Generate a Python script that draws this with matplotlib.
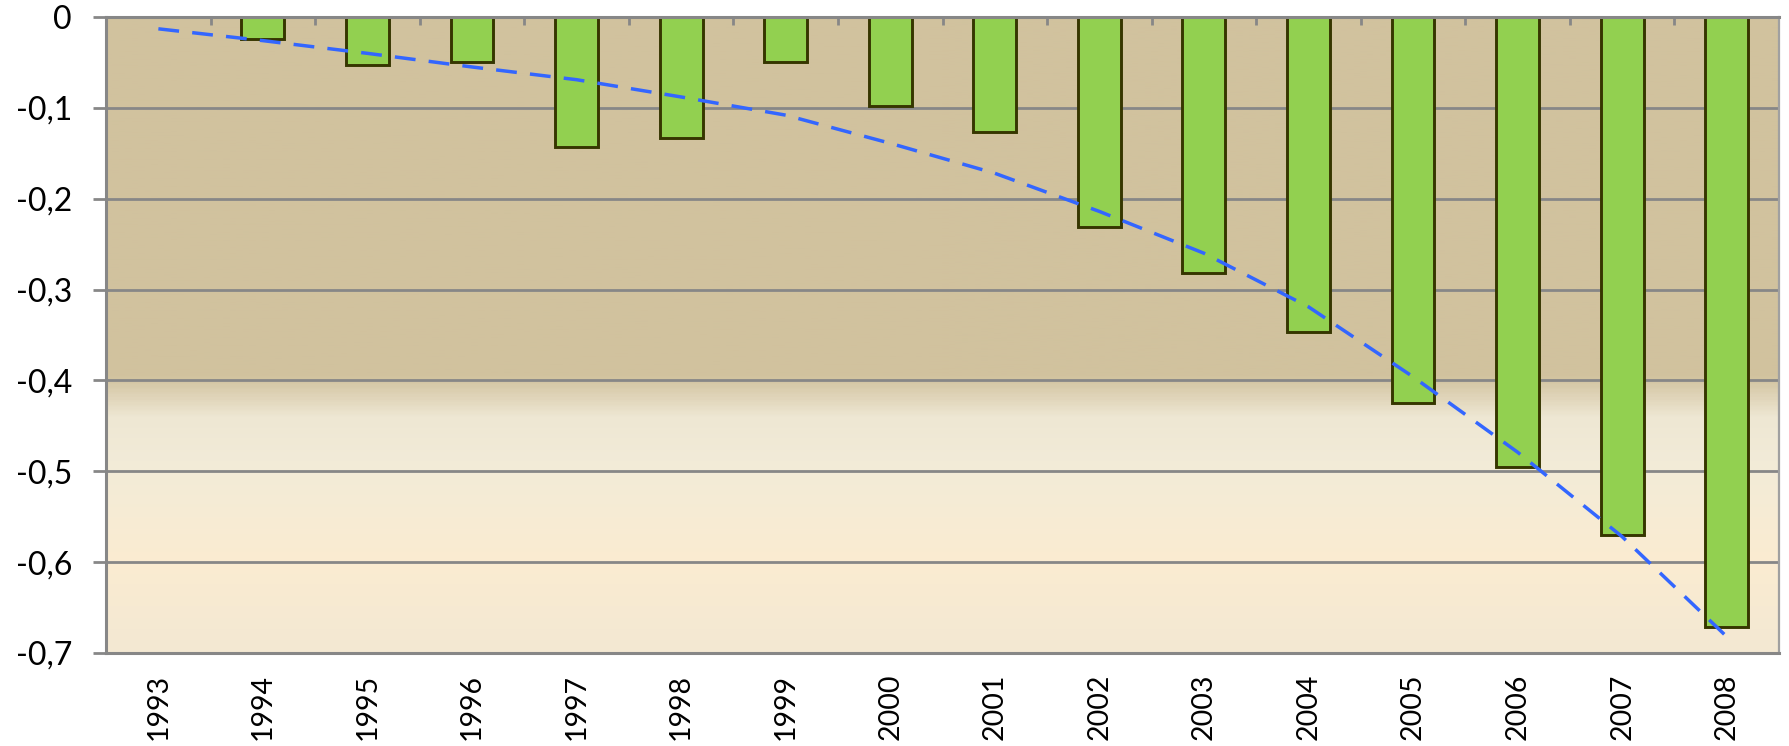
import numpy as np
import matplotlib
matplotlib.use("Agg")
import matplotlib.pyplot as plt
from matplotlib.colors import LinearSegmentedColormap

years = ["1993", "1994", "1995", "1996", "1997", "1998", "1999", "2000",
         "2001", "2002", "2003", "2004", "2005", "2006", "2007", "2008"]
values = [0.0, -0.024, -0.053, -0.050, -0.143, -0.133, -0.050, -0.098,
          -0.127, -0.231, -0.282, -0.347, -0.425, -0.495, -0.570, -0.671]
trend = [-0.013, -0.026, -0.040, -0.055, -0.069, -0.088, -0.108, -0.139,
         -0.172, -0.214, -0.260, -0.319, -0.396, -0.479, -0.572, -0.682]
yticks = [0, -0.1, -0.2, -0.3, -0.4, -0.5, -0.6, -0.7]
ytick_labels = ["0", "-0,1", "-0,2", "-0,3", "-0,4", "-0,5", "-0,6", "-0,7"]

plt.rcParams['font.family'] = ['Lato', 'DejaVu Sans']

fig = plt.figure(figsize=(17.89, 7.46), dpi=100)
ax = fig.add_axes([0.0593, 0.1247, 0.9351, 0.8525])

# background gradient of the plot area (top -> bottom)
bg = LinearSegmentedColormap.from_list("bg", [
    (0.0, "#D1C29E"), (0.565, "#D1C29E"), (0.63, "#EEE7D3"),
    (0.70, "#F2EBD8"), (0.86, "#FBECD1"), (1.0, "#F3E8D3")])
grad = np.linspace(0, 1, 400).reshape(-1, 1)
ax.imshow(grad, cmap=bg, aspect="auto", extent=[0, 1, 0, 1],
          transform=ax.transAxes, zorder=0)

x = np.arange(len(years))
ax.bar(x, values, width=0.41, color="#92D050", edgecolor="#363600",
       linewidth=2.1, zorder=3)
ax.plot(x, trend, color="#3366FF", lw=2.5, dashes=(6, 3.8), zorder=4)

ax.set_xlim(-0.5, len(years) - 0.5)
ax.set_ylim(-0.7, 0)
ax.set_yticks(yticks)
ax.set_yticklabels(ytick_labels, fontsize=23)
ax.yaxis.grid(True, color="#878787", lw=2.0, zorder=1)
ax.set_axisbelow(True)

# category axis sits at y=0, labels at bottom
ax.set_xticks(x)
ax.set_xticklabels(years, rotation=90, fontsize=20.5)
ax.tick_params(axis="x", length=0, pad=15)
ax.set_xticks(np.arange(0.5, len(years) - 1, 1), minor=True)
ax.tick_params(axis="x", which="minor", direction="in", length=6,
               width=2, color="#878787", top=True, bottom=False)
ax.tick_params(axis="y", length=9.5, width=2, color="#878787", pad=15)

for side in ["left", "top", "bottom"]:
    ax.spines[side].set_color("#878787")
    ax.spines[side].set_linewidth(2.2)
    ax.spines[side].set_zorder(5)
ax.spines["right"].set_color("#A0A0A0")
ax.spines["right"].set_linewidth(1.6)

fig.savefig("out.png", dpi=100)
